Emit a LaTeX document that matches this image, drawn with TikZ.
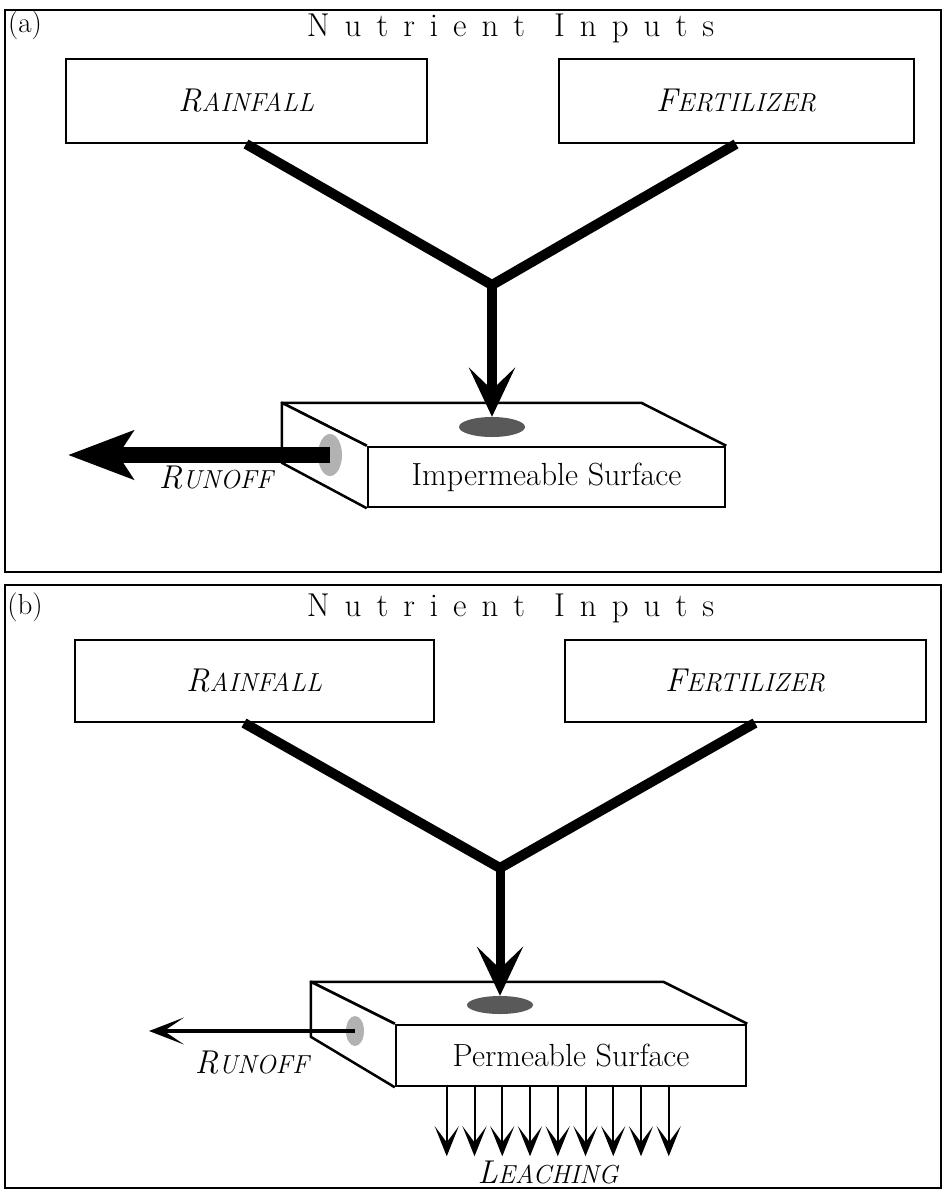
\documentclass[tikz,border=0pt]{standalone}
\usepackage{fontspec}
\usetikzlibrary{arrows.meta,calc,positioning,shapes.geometric}
% italic small caps by hand
\newcommand{\smcap}[2]{{\fontsize{33}{33}\selectfont #1}{\fontsize{26}{26}\selectfont #2}}
% letter spacing for the titles
\def\spreadit#1{\ifx#1\relax\else#1\kern15pt\expandafter\spreadit\fi}

\begin{document}
\begin{tikzpicture}[x=1pt,y=-1pt,
		frame/.style={draw, line width=2pt},
		inbox/.style={draw, line width=2pt, minimum height=84pt, inner sep=0pt, font=\itshape},
		face/.style={draw, line width=2.5pt, fill=white, minimum height=60pt, inner sep=0pt, font=\fontsize{32}{32}\selectfont},
		flow/.style={line width=10pt},
		bighead/.style={-{Stealth[length=49pt,width=46pt,inset=22pt]}},
		drip/.style={line width=2pt, -{Stealth[length=30pt,width=24pt,inset=16pt]}},
		spot/.style={ellipse, fill=black!65, inner sep=0pt},
		side/.style={ellipse, fill=black!30, inner sep=0pt},
		title/.style={font=\fontsize{33}{33}\selectfont},
		lab/.style={font=\fontsize{29}{29}\selectfont},
		outlab/.style={font=\itshape}]

	\useasboundingbox (0,0) rectangle (943,1191);

	% panel (a)
	\draw[frame] (5,10) rectangle (941,572);
	\node[lab] (labA) at (25,25) {(a)};
	\node[title, anchor=base] (titA) at (518,36) {\spreadit Nutrient\relax\kern14pt\spreadit Inputs\relax};
	\node[inbox, minimum width=361pt] (rainA) at (246,101) {\smcap{R}{AINFALL}};
	\node[inbox, minimum width=355pt] (fertA) at (736,101) {\smcap{F}{ERTILIZER}};
	\coordinate (jA) at (492,285);
	\draw[flow] (rainA.south) -- (jA) -- (fertA.south);

	\node[face, minimum width=357pt] (surfA) at (546.5,477) {Impermeable Surface};
	\draw[line width=2.5pt, fill=white, line join=round] (surfA.north west) -- ++(-85,-43) -- ($(surfA.north east)+(-85,-43)$) -- (surfA.north east);
	\draw[line width=2.5pt, fill=white, line join=round] (surfA.north west) -- ++(-85,-43) -- ++(0,60) -- (surfA.south west);
	\node[spot, minimum width=66pt, minimum height=20pt] (spotA) at (492,427) {};
	\node[side, minimum width=24pt, minimum height=42pt] (sideA) at (330,455) {};
	\draw[flow, bighead] (jA) -- (spotA.north);

	\coordinate (runA) at (68,455);
	\draw[line width=16pt, -{Stealth[length=65pt,width=48pt,inset=15pt]}] (sideA.center) -- (runA);
	\node[outlab] (runlabA) at (216,478) {\smcap{R}{UNOFF}};

	% panel (b)
	\draw[frame] (5,585) rectangle (941,1188);
	\node[lab] (labB) at (25,607) {(b)};
	\node[title, anchor=base] (titB) at (518,616) {\spreadit Nutrient\relax\kern14pt\spreadit Inputs\relax};
	\node[inbox, minimum width=359pt, minimum height=82pt] (rainB) at (254,681) {\smcap{R}{AINFALL}};
	\node[inbox, minimum width=361pt, minimum height=82pt] (fertB) at (745,681) {\smcap{F}{ERTILIZER}};
	\coordinate (jB) at (500,868);
	\draw[flow] ([xshift=-10pt]rainB.south) -- (jB) -- ([xshift=10pt]fertB.south);

	\node[face, minimum width=350pt, minimum height=61pt] (surfB) at (571,1055.5) {Permeable Surface};
	\draw[line width=2.5pt, fill=white, line join=round] (surfB.north west) -- ++(-84,-42) -- ($(surfB.north east)+(-84,-42)$) -- (surfB.north east);
	\draw[line width=2.5pt, fill=white, line join=round] (surfB.north west) -- ++(-84,-42) -- ++(0,55) -- (surfB.south west);
	\node[spot, minimum width=66pt, minimum height=18pt] (spotB) at (500,1005) {};
	\node[side, minimum width=18pt, minimum height=30pt] (sideB) at (355,1031) {};
	\draw[flow, line width=9pt, bighead] (jB) -- (spotB.north);

	\coordinate (runB) at (149,1031);
	\draw[line width=4pt, -{Stealth[length=35pt,width=27pt,inset=20pt]}] (sideB.center) -- (runB);
	\node[outlab] (runlabB) at (252,1063) {\smcap{R}{UNOFF}};

	\foreach \i in {0,...,8} {
		\draw[drip] ($(surfB.south west)+(52+27.75*\i,0)$) -- ++(0,69);
	}
	\node[outlab] (leachB) at (548,1172) {\smcap{L}{EACHING}};
\end{tikzpicture}
\end{document}
